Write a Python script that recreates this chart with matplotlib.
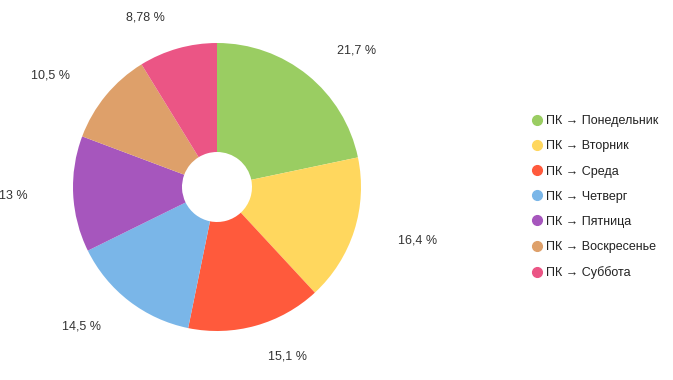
import matplotlib
matplotlib.use('Agg')
import matplotlib.pyplot as plt
from matplotlib.lines import Line2D
import numpy as np

plt.rcParams['font.family'] = ['Liberation Sans', 'DejaVu Sans']

labels = ['ПК → Понедельник', 'ПК → Вторник', 'ПК → Среда', 'ПК → Четверг',
          'ПК → Пятница', 'ПК → Воскресенье', 'ПК → Суббота']
values = [21.7, 16.4, 15.1, 14.5, 13.0, 10.5, 8.78]
value_text = ['21,7 %', '16,4 %', '15,1 %', '14,5 %', '13 %', '10,5 %', '8,78 %']
colors = ['#9acd62', '#ffd75e', '#ff5a3c', '#7ab6e8', '#a656bd', '#dea06a', '#eb5585']

W, H = 673, 380
cx, cy, R = 217, 187, 144

fig = plt.figure(figsize=(W / 100, H / 100), dpi=100)
ax = fig.add_axes([0, 0, 1, 1])

wedges, _ = ax.pie(values, colors=colors, startangle=90, counterclock=False,
                   radius=1, wedgeprops=dict(width=1 - 35 / R, linewidth=0))
ax.set_aspect('auto')
ax.set_xlim(-cx / R, (W - cx) / R)
ax.set_ylim(-(H - cy) / R, cy / R)
ax.axis('off')

# labels sit on an ellipse around the pie, aligned away from it
total = sum(values)
start = 90
for v, t in zip(values, value_text):
    mid = np.deg2rad(start - v / total * 360 / 2)
    start -= v / total * 360
    x, y = 1.32 * np.cos(mid), 1.22 * np.sin(mid)
    ha = 'left' if np.cos(mid) > 0 else 'right'
    ax.text(x, y, t, ha=ha, va='center', fontsize=9, color='#333333')

handles = [Line2D([], [], marker='o', linestyle='', markersize=7,
                  markerfacecolor=c, markeredgecolor=c) for c in colors]
fig.legend(handles, labels, loc='upper left', bbox_to_anchor=(521 / W, 1 - 109 / H),
           frameon=False, fontsize=9, handletextpad=0.0, labelspacing=1.05,
           handlelength=1.5, borderpad=0, labelcolor='#222222')

fig.savefig('out.png', dpi=100)
